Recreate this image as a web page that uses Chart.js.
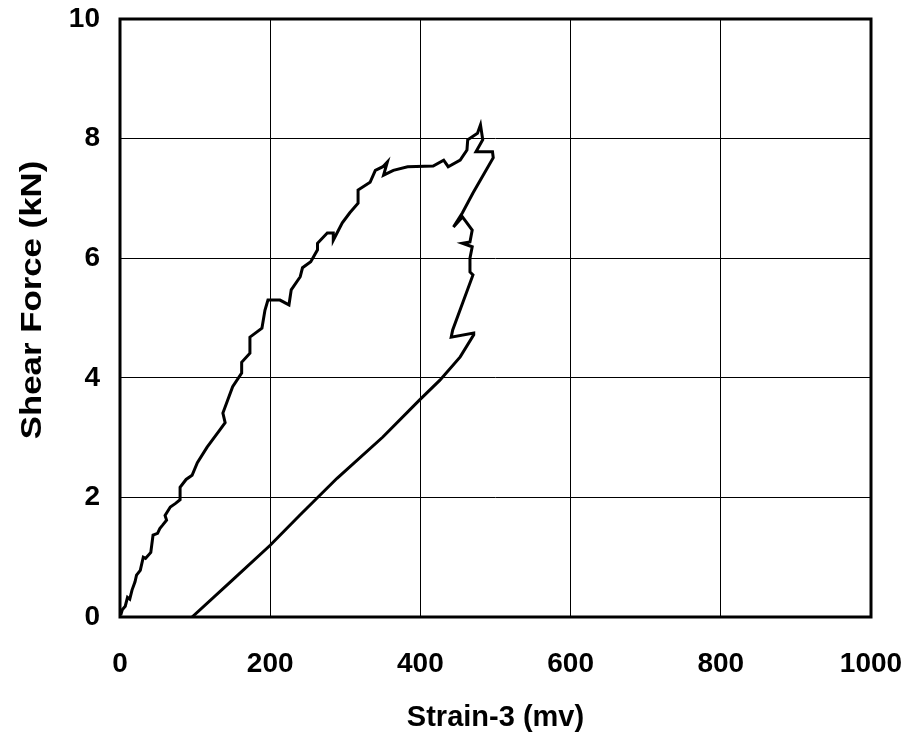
<!DOCTYPE html>
<html>
<head>
<meta charset="utf-8">
<script src="https://cdn.jsdelivr.net/npm/chart.js@4"></script>
<style>
  html, body { margin: 0; padding: 0; background: #fff; }
  #wrap { width: 910px; height: 743px; }
</style>
</head>
<body>
<div id="wrap"><canvas id="shearChart" width="910" height="743"></canvas></div>
<script>
// ─── Data ──────────────────────────────────────────────────────────────────────
// loading branch (wiggly), peak, then unloading back to zero force
const strainLoad = [1, 3, 7, 10, 13, 16, 20, 22, 27, 31, 34, 41, 44, 50, 53, 57, 62, 60, 67, 74, 80, 80, 88, 96, 103, 116, 133, 140, 137, 150, 162, 162, 173, 173, 189, 193, 197, 213, 225, 228, 240, 243, 254, 263, 263, 276, 284, 284, 296, 306, 317, 317, 333, 340, 350, 356, 351, 364, 383, 417, 431, 437, 453, 462, 463, 476, 480, 483, 474, 496, 497, 470, 456, 444, 456, 469, 466, 456, 469, 466, 466, 470, 443, 441, 471];
const forceLoad  = [0.03, 0.12, 0.18, 0.33, 0.30, 0.45, 0.59, 0.70, 0.78, 1.00, 0.98, 1.08, 1.37, 1.40, 1.48, 1.54, 1.62, 1.70, 1.84, 1.90, 1.96, 2.17, 2.30, 2.37, 2.58, 2.84, 3.13, 3.25, 3.41, 3.85, 4.08, 4.26, 4.41, 4.68, 4.83, 5.13, 5.30, 5.30, 5.22, 5.47, 5.69, 5.84, 5.94, 6.14, 6.25, 6.42, 6.42, 6.30, 6.59, 6.76, 6.92, 7.14, 7.27, 7.47, 7.53, 7.61, 7.39, 7.47, 7.53, 7.54, 7.64, 7.53, 7.64, 7.81, 7.98, 8.09, 8.23, 7.98, 7.78, 7.78, 7.68, 7.09, 6.76, 6.52, 6.69, 6.47, 6.27, 6.25, 6.19, 6.00, 5.77, 5.72, 4.80, 4.68, 4.75];

const strainUnload = [471, 453, 426, 399, 350, 289, 240, 200, 150, 96];
const forceUnload  = [4.72, 4.35, 3.96, 3.63, 3.01, 2.32, 1.71, 1.20, 0.62, 0.00];

const xTicks = [0, 200, 400, 600, 800, 1000];
const yTicks = [0, 2, 4, 6, 8, 10];

const toPoints = (xs, ys) => xs.map((x, i) => ({ x, y: ys[i] }));
const curve = toPoints(strainLoad, forceLoad).concat(toPoints(strainUnload, forceUnload));

const fontFamily = '"Liberation Sans", Arial, sans-serif';
const tickFont = { family: fontFamily, size: 28, weight: 'bold' };
const titleFont = { family: fontFamily, size: 29, weight: 'bold' };

// ─── Frame plugin (thick box around the plot area) + stretched y title ────────
const framePlugin = {
  id: 'frame',
  afterDraw(chart) {
    const { ctx, chartArea: a } = chart;
    ctx.save();
    ctx.strokeStyle = '#000';
    ctx.lineWidth = 3;
    ctx.strokeRect(a.left, a.top, a.right - a.left, a.bottom - a.top);
    ctx.restore();

    // y title: the original is stretched along its length
    ctx.save();
    ctx.translate(33, 300);
    ctx.rotate(-Math.PI / 2);
    ctx.scale(1.2, 1);
    ctx.font = `bold ${titleFont.size}px ${fontFamily}`;
    ctx.fillStyle = '#000';
    ctx.textAlign = 'center';
    ctx.textBaseline = 'middle';
    ctx.fillText('Shear Force (kN)', 0, 0);
    ctx.restore();
  },
};

// keep the plot area exactly where the layout padding puts it
const noOverflow = (s) => { s.paddingTop = 0; s.paddingBottom = 0; s.paddingLeft = 0; s.paddingRight = 0; };

new Chart(document.getElementById('shearChart'), {
  type: 'scatter',
  data: {
    datasets: [{
      data: curve,
      showLine: true,
      borderColor: '#000',
      borderWidth: 3,
      pointRadius: 0,
      tension: 0,
      fill: false,
    }],
  },
  options: {
    responsive: false,
    animation: false,
    devicePixelRatio: 1,
    layout: { padding: { top: 19, right: 39, left: 0, bottom: 0 } },
    plugins: { legend: { display: false }, tooltip: { enabled: false } },
    scales: {
      x: {
        type: 'linear',
        min: 0, max: 1000,
        afterBuildTicks: (s) => { s.ticks = xTicks.map(v => ({ value: v })); },
        afterFit: (s) => { s.height = 126; noOverflow(s); },
        grid: { color: '#000', lineWidth: 1, drawTicks: false },
        border: { display: false },
        ticks: { font: tickFont, color: '#000', padding: 30, maxRotation: 0, callback: (v) => String(v) },
        title: { display: true, text: 'Strain-3 (mv)', font: titleFont, color: '#000', padding: { top: 8, bottom: 8 } },
      },
      y: {
        type: 'linear',
        min: 0, max: 10,
        afterBuildTicks: (s) => { s.ticks = yTicks.map(v => ({ value: v })); },
        afterFit: (s) => { s.width = 120; noOverflow(s); },
        grid: { color: '#000', lineWidth: 1, drawTicks: false },
        border: { display: false },
        ticks: { font: tickFont, color: '#000', padding: 20, callback: (v) => String(v) },
        title: { display: false },
      },
    },
  },
  plugins: [framePlugin],
});
</script>
</body>
</html>
